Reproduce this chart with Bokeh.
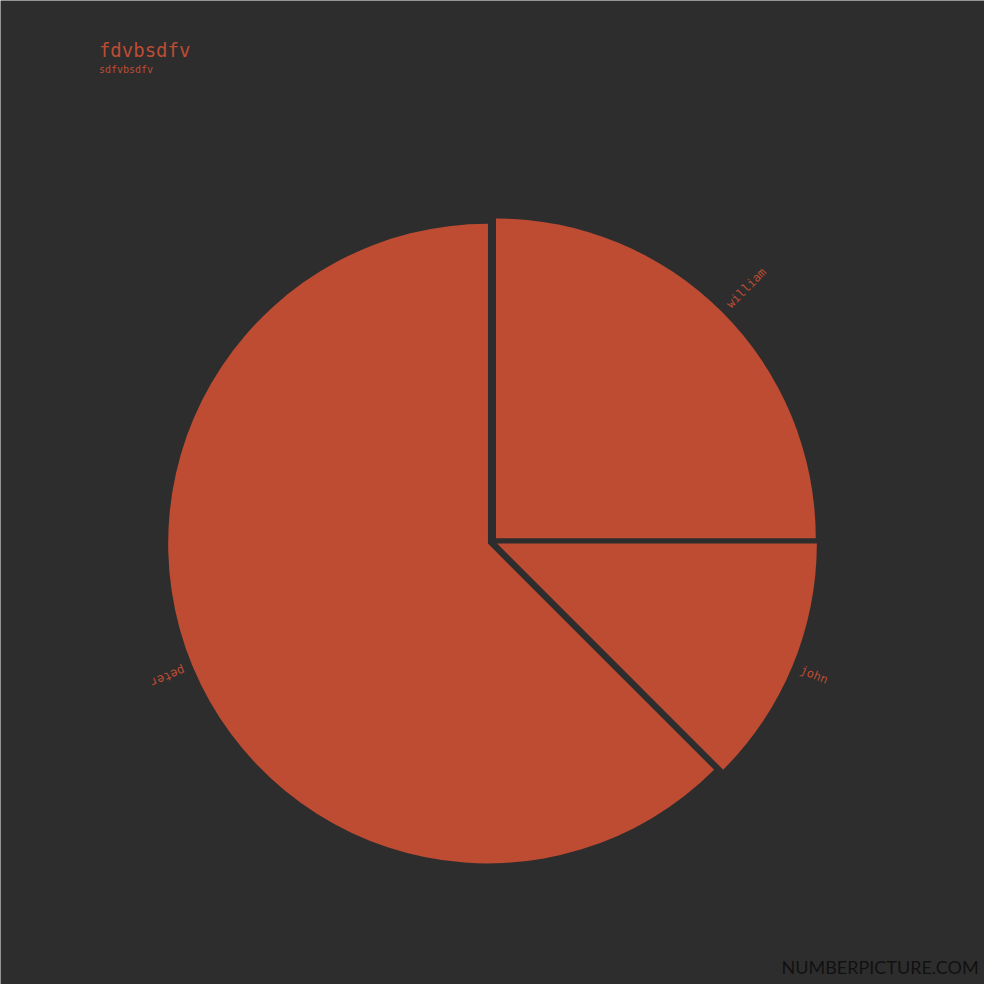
import math
from bokeh.plotting import figure
from bokeh.models import Range1d, ColumnDataSource
from bokeh.core.properties import value
from bokeh.embed import file_html
from bokeh.resources import INLINE

# ---- data ----
categories = ["william", "john", "peter"]
values = [2, 1, 5]
title_text = "fdvbsdfv"
subtitle_text = "sdfvbsdfv"
watermark = "NUMBERPICTURE.COM"

# ---- style ----
BG = "#2d2d2d"
SLICE = "#bd4c33"
W = H = 984
S = W / 1000.0  # reference layout scaled to fit the window

def fx(px):
    return px * S

def fy(py):
    return H - py * S

cx, cy = fx(500), fy(550)
R = 325 * S
EXPLODE = 5 * S
LABEL_R = 339 * S

total = float(sum(values))
xs, ys, starts, ends, lx, ly, la = [], [], [], [], [], [], []
cum = 0.0
for v in values:
    frac = v / total
    s = math.pi / 2 - cum * 2 * math.pi
    e = s - frac * 2 * math.pi
    mid = (s + e) / 2
    xs.append(cx + EXPLODE * math.cos(mid))
    ys.append(cy + EXPLODE * math.sin(mid))
    starts.append(s)
    ends.append(e)
    lx.append(cx + LABEL_R * math.cos(mid))
    ly.append(cy + LABEL_R * math.sin(mid))
    la.append(mid)
    cum += frac

src = ColumnDataSource(dict(x=xs, y=ys, start=starts, end=ends, name=categories))
lsrc = ColumnDataSource(dict(x=lx, y=ly, angle=la, text=categories))

p = figure(width=W, height=H, output_backend="svg", toolbar_location=None,
           x_range=Range1d(0, W), y_range=Range1d(0, H),
           background_fill_color=BG, border_fill_color=BG, min_border=0)
p.axis.visible = False
p.grid.visible = False
p.outline_line_color = None

p.wedge(x="x", y="y", radius=R, start_angle="start", end_angle="end",
        direction="clock", source=src, fill_color=SLICE, line_color=None)

p.text(x="x", y="y", text="text", angle="angle", source=lsrc,
       text_align="left", text_baseline="middle",
       text_font=value("DejaVu Sans Mono"), text_font_size="12px",
       text_color=SLICE)

p.text(x=[fx(100)], y=[fy(50)], text=[title_text], text_align="left",
       text_baseline="alphabetic", text_font=value("DejaVu Sans Mono"),
       text_font_size="19px", text_color=SLICE)
p.text(x=[fx(100)], y=[fy(70)], text=[subtitle_text], text_align="left",
       text_baseline="alphabetic", text_font=value("DejaVu Sans Mono"),
       text_font_size="10px", text_color=SLICE)

p.text(x=[fx(994)], y=[fy(982)], text=[watermark], text_align="right",
       text_baseline="alphabetic", text_font=value("Lato"),
       text_font_size="18px", text_color="#111111")

open("out.html", "w").write(file_html(p, INLINE))
